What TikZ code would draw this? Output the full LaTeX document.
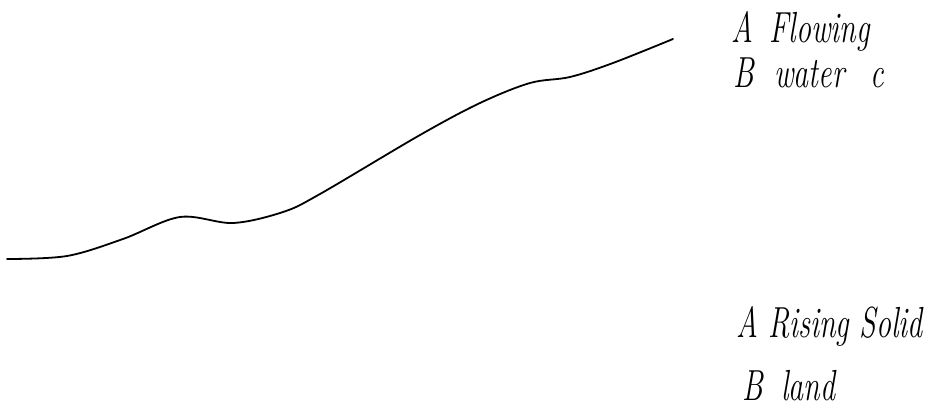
\documentclass[tikz,border=0pt]{standalone}
\usepackage{tikz}
\usetikzlibrary{positioning}

% tall script text
\newcommand{\handtext}[1]{\scalebox{1}[1.45]{#1}}

\begin{document}
\begin{tikzpicture}[
  x=1pt, y=-1pt,
  hand/.style={font=\fontsize{30}{36}\selectfont\itshape, anchor=base west, inner sep=0pt},
  ridge/.style={line width=1.8pt, line cap=round}]
\useasboundingbox (0,0) rectangle (950,412);
% land profile
\draw[ridge] plot[smooth, tension=0.55] coordinates {
  (7,259) (67,256) (123,239) (180,217) (233,223) (283,212) (320,194)
  (420,135) (480,103) (530,83) (570,77) (613,63) (673,39)};
% labels at top right
\node[hand] (flowA) at (731,43) {\handtext{A\hspace{6pt} Flowing}};
\node[hand] (flowB) at (733,88) {\handtext{B\hspace{10pt} water\hspace{16pt} c}};
% labels at bottom right
\node[hand] (riseA) at (736,337) {\handtext{A Rising Solid}};
\node[hand] (riseB) at (742,400) {\handtext{B\hspace{8pt} land}};
\end{tikzpicture}
\end{document}
